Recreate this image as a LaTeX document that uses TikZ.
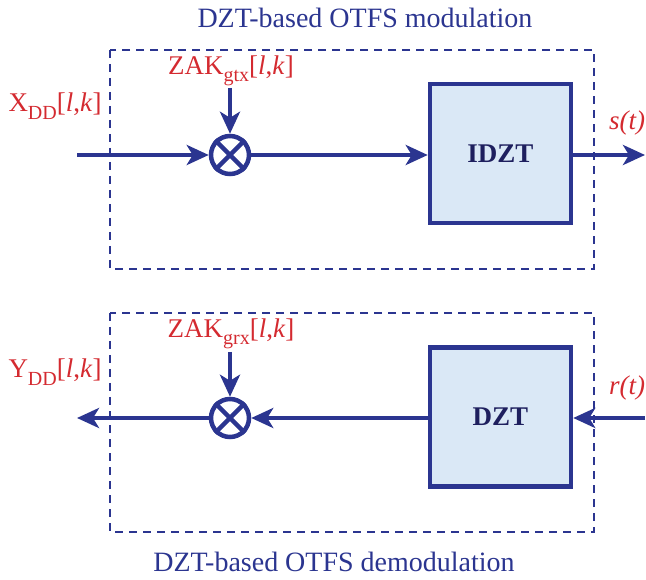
\documentclass[tikz,border=0pt]{standalone}
\usepackage{fontspec}
\setmainfont{Liberation Serif}
\usetikzlibrary{arrows.meta}
\definecolor{dblue}{HTML}{2B3590}
\definecolor{navy}{HTML}{1E1F5E}
\definecolor{lred}{HTML}{D42A30}
\definecolor{lfill}{HTML}{DAE8F6}
\newcommand\sbs[1]{\raisebox{-0.28em}{\fontsize{20}{20}\selectfont #1}}
\begin{document}
\begin{tikzpicture}[x=1pt,y=-1pt,
  every node/.style={font=\fontsize{27}{31}\selectfont},
  sig/.style={draw=dblue,line width=4.5pt,-{Stealth[length=22pt,width=20pt,inset=6pt]}},
  frame/.style={draw=dblue,line width=2pt,dash pattern=on 8pt off 6pt},
  blk/.style={draw=dblue,fill=lfill,line width=4.5pt,minimum width=141pt,minimum height=139pt,inner sep=0pt,font=\fontsize{27}{31}\selectfont\bfseries,text=navy},
  mult/.style={circle,draw=dblue,line width=4.5pt,minimum size=38pt,inner sep=0pt},
  lbl/.style={text=lred,inner sep=0pt},
  ttl/.style={text=dblue,inner sep=0pt,font=\fontsize{28}{32}\selectfont}]
\useasboundingbox (0,0) rectangle (646,580);
% frames
\draw[frame] (110,50) rectangle (594,269);
\draw[frame] (110,313) rectangle (594,532);
\node[ttl] (t1) at (365,18) {DZT-based OTFS modulation};
\node[ttl] (t2) at (334,562) {DZT-based OTFS demodulation};
% top chain
\coordinate (inA) at (77,155);
\node[mult] (m1) at (230,155) {};
\draw[dblue,line width=4.5pt] (m1.45)--(m1.225) (m1.135)--(m1.315);
\node[blk] (idzt) at (500.5,153.5) {IDZT};
\coordinate (outA) at (645,155);
\coordinate (zakA) at (230,88);
\draw[sig] (inA) -- (m1.west);
\draw[sig] (m1.east) -- (idzt.west|-m1.east);
\draw[sig] (idzt.east|-outA) -- (outA);
\draw[sig] (zakA) -- (m1.north);
\node[lbl] (xdd) at (55,106) {X\sbs{DD}[\textit{l},\textit{k}]};
\node[lbl] (zt) at (231,71) {ZAK\sbs{gtx}[\textit{l},\textit{k}]};
\node[lbl] (st) at (627,123) {\textit{s(t)}};
% bottom chain
\coordinate (outB) at (77,418);
\node[mult] (m2) at (230,418) {};
\draw[dblue,line width=4.5pt] (m2.45)--(m2.225) (m2.135)--(m2.315);
\node[blk] (dzt) at (500.5,417) {DZT};
\coordinate (inB) at (645,418);
\coordinate (zakB) at (230,352);
\draw[sig] (inB) -- (dzt.east|-inB);
\draw[sig] (dzt.west|-m2.east) -- (m2.east);
\draw[sig] (m2.west) -- (outB);
\draw[sig] (zakB) -- (m2.north);
\node[lbl] (ydd) at (55,372) {Y\sbs{DD}[\textit{l},\textit{k}]};
\node[lbl] (zr) at (231,334) {ZAK\sbs{grx}[\textit{l},\textit{k}]};
\node[lbl] (rt) at (627,388) {\textit{r(t)}};
\end{tikzpicture}
\end{document}
